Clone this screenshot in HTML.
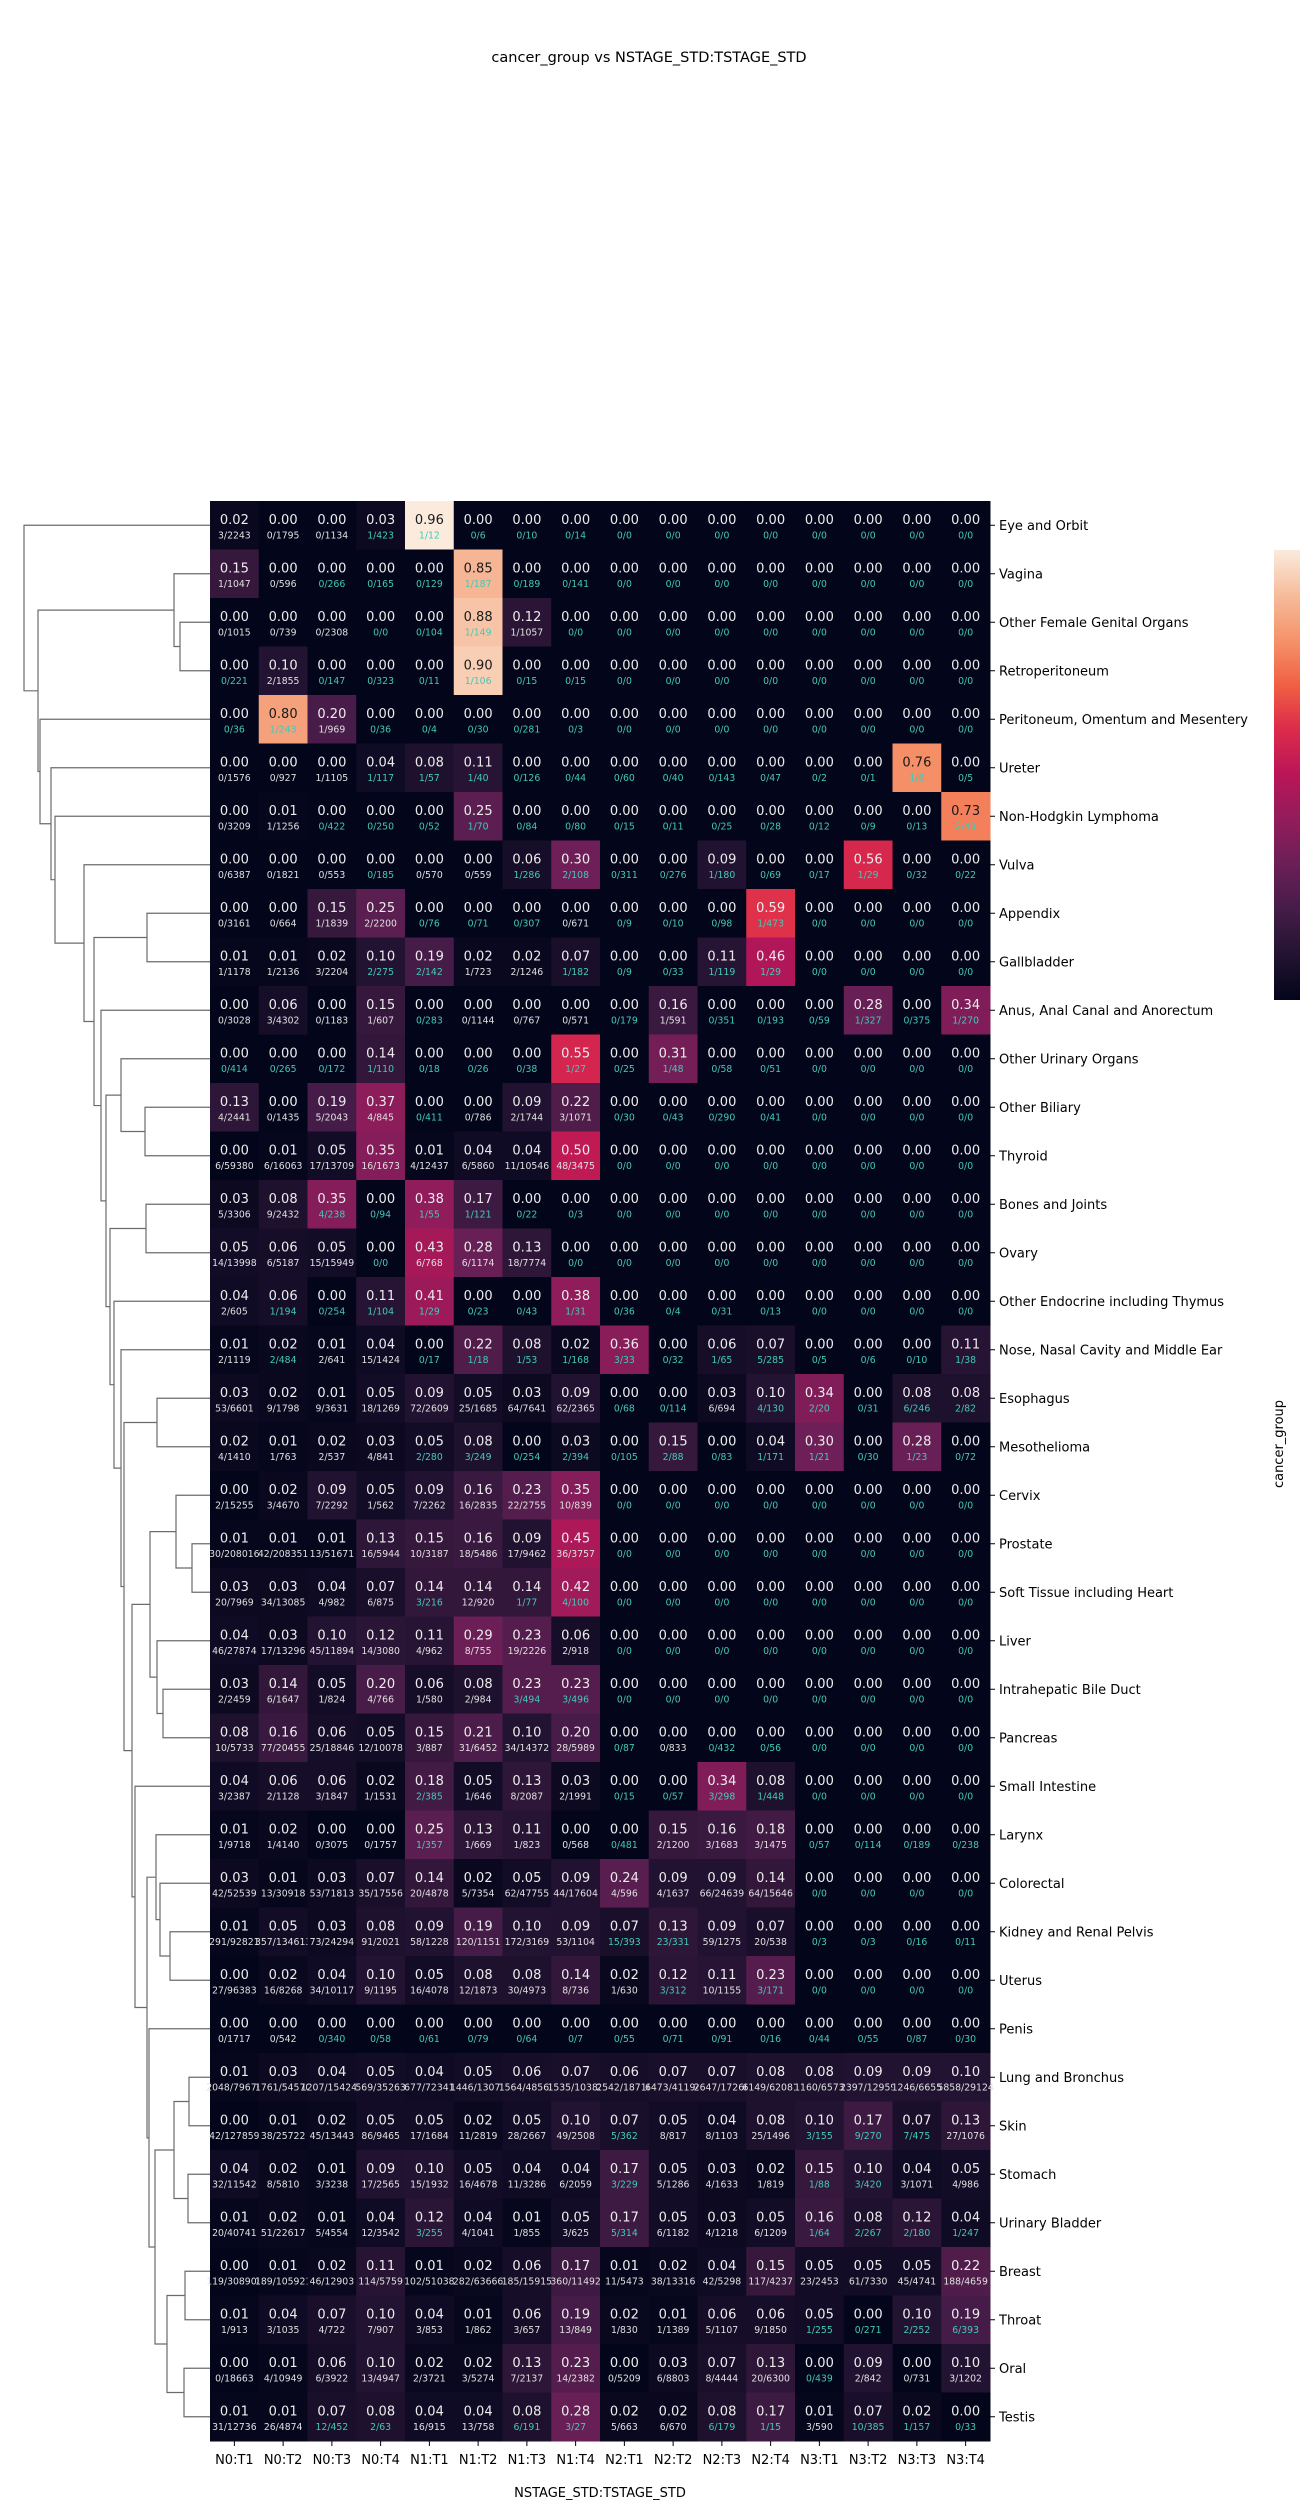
<!DOCTYPE html>
<html><head><meta charset="utf-8"><style>
html,body{margin:0;padding:0;background:#fff;}
svg{display:block;font-family:"DejaVu Sans","Liberation Sans",sans-serif;}
</style></head><body>
<svg id="fig" width="1300" height="2500" viewBox="0 0 1300 2500" xmlns="http://www.w3.org/2000/svg">
<text x="649" y="62" font-size="14.5" text-anchor="middle" fill="#000">cancer_group vs NSTAGE_STD:TSTAGE_STD</text>
<defs><linearGradient id="cbg" x1="0" y1="1" x2="0" y2="0">
<stop offset="0" stop-color="#03051a"/><stop offset="0.1" stop-color="#221331"/><stop offset="0.2" stop-color="#451c47"/><stop offset="0.3" stop-color="#6a1f56"/><stop offset="0.4" stop-color="#921c5b"/><stop offset="0.5" stop-color="#b91657"/><stop offset="0.6" stop-color="#dc2a4b"/><stop offset="0.7" stop-color="#f06043"/><stop offset="0.8" stop-color="#f5936a"/><stop offset="0.9" stop-color="#f6bc9c"/><stop offset="1" stop-color="#faebdd"/>
</linearGradient></defs>
<rect x="1274" y="550" width="26" height="450" fill="url(#cbg)"/>
<g id="dendro"></g>
<g id="cells"></g>
<g id="ylabels"></g>
<g id="xlabels"></g>
<text x="600" y="2497" font-size="13" text-anchor="middle">NSTAGE_STD:TSTAGE_STD</text>
<text x="0" y="0" font-size="13" text-anchor="middle" transform="translate(1283,1444) rotate(-90)">cancer_group</text>
</svg>
<script>
const rows = ["Eye and Orbit","Vagina","Other Female Genital Organs","Retroperitoneum","Peritoneum, Omentum and Mesentery","Ureter","Non-Hodgkin Lymphoma","Vulva","Appendix","Gallbladder","Anus, Anal Canal and Anorectum","Other Urinary Organs","Other Biliary","Thyroid","Bones and Joints","Ovary","Other Endocrine including Thymus","Nose, Nasal Cavity and Middle Ear","Esophagus","Mesothelioma","Cervix","Prostate","Soft Tissue including Heart","Liver","Intrahepatic Bile Duct","Pancreas","Small Intestine","Larynx","Colorectal","Kidney and Renal Pelvis","Uterus","Penis","Lung and Bronchus","Skin","Stomach","Urinary Bladder","Breast","Throat","Oral","Testis"];
const cols = ["N0:T1","N0:T2","N0:T3","N0:T4","N1:T1","N1:T2","N1:T3","N1:T4","N2:T1","N2:T2","N2:T3","N2:T4","N3:T1","N3:T2","N3:T3","N3:T4"];
const rates = [
[.02,0,0,.03,.96,0,0,0,0,0,0,0,0,0,0,0],
[.15,0,0,0,0,.85,0,0,0,0,0,0,0,0,0,0],
[0,0,0,0,0,.88,.12,0,0,0,0,0,0,0,0,0],
[0,.10,0,0,0,.90,0,0,0,0,0,0,0,0,0,0],
[0,.80,.20,0,0,0,0,0,0,0,0,0,0,0,0,0],
[0,0,0,.04,.08,.11,0,0,0,0,0,0,0,0,.76,0],
[0,.01,0,0,0,.25,0,0,0,0,0,0,0,0,0,.73],
[0,0,0,0,0,0,.06,.30,0,0,.09,0,0,.56,0,0],
[0,0,.15,.25,0,0,0,0,0,0,0,.59,0,0,0,0],
[.01,.01,.02,.10,.19,.02,.02,.07,0,0,.11,.46,0,0,0,0],
[0,.06,0,.15,0,0,0,0,0,.16,0,0,0,.28,0,.34],
[0,0,0,.14,0,0,0,.55,0,.31,0,0,0,0,0,0],
[.13,0,.19,.37,0,0,.09,.22,0,0,0,0,0,0,0,0],
[0,.01,.05,.35,.01,.04,.04,.50,0,0,0,0,0,0,0,0],
[.03,.08,.35,0,.38,.17,0,0,0,0,0,0,0,0,0,0],
[.05,.06,.05,0,.43,.28,.13,0,0,0,0,0,0,0,0,0],
[.04,.06,0,.11,.41,0,0,.38,0,0,0,0,0,0,0,0],
[.01,.02,.01,.04,0,.22,.08,.02,.36,0,.06,.07,0,0,0,.11],
[.03,.02,.01,.05,.09,.05,.03,.09,0,0,.03,.10,.34,0,.08,.08],
[.02,.01,.02,.03,.05,.08,0,.03,0,.15,0,.04,.30,0,.28,0],
[0,.02,.09,.05,.09,.16,.23,.35,0,0,0,0,0,0,0,0],
[.01,.01,.01,.13,.15,.16,.09,.45,0,0,0,0,0,0,0,0],
[.03,.03,.04,.07,.14,.14,.14,.42,0,0,0,0,0,0,0,0],
[.04,.03,.10,.12,.11,.29,.23,.06,0,0,0,0,0,0,0,0],
[.03,.14,.05,.20,.06,.08,.23,.23,0,0,0,0,0,0,0,0],
[.08,.16,.06,.05,.15,.21,.10,.20,0,0,0,0,0,0,0,0],
[.04,.06,.06,.02,.18,.05,.13,.03,0,0,.34,.08,0,0,0,0],
[.01,.02,0,0,.25,.13,.11,0,0,.15,.16,.18,0,0,0,0],
[.03,.01,.03,.07,.14,.02,.05,.09,.24,.09,.09,.14,0,0,0,0],
[.01,.05,.03,.08,.09,.19,.10,.09,.07,.13,.09,.07,0,0,0,0],
[0,.02,.04,.10,.05,.08,.08,.14,.02,.12,.11,.23,0,0,0,0],
[0,0,0,0,0,0,0,0,0,0,0,0,0,0,0,0],
[.01,.03,.04,.05,.04,.05,.06,.07,.06,.07,.07,.08,.08,.09,.09,.10],
[0,.01,.02,.05,.05,.02,.05,.10,.07,.05,.04,.08,.10,.17,.07,.13],
[.04,.02,.01,.09,.10,.05,.04,.04,.17,.05,.03,.02,.15,.10,.04,.05],
[.01,.02,.01,.04,.12,.04,.01,.05,.17,.05,.03,.05,.16,.08,.12,.04],
[0,.01,.02,.11,.01,.02,.06,.17,.01,.02,.04,.15,.05,.05,.05,.22],
[.01,.04,.07,.10,.04,.01,.06,.19,.02,.01,.06,.06,.05,0,.10,.19],
[0,.01,.06,.10,.02,.02,.13,.23,0,.03,.07,.13,0,.09,0,.10],
[.01,.01,.07,.08,.04,.04,.08,.28,.02,.02,.08,.17,.01,.07,.02,0]
];
const Z8 = "0/0 0/0 0/0 0/0 0/0 0/0 0/0 0/0";
const Z4 = "0/0 0/0 0/0 0/0";
const fracs = [
"3/2243 0/1795 0/1134 1/423 1/12 0/6 0/10 0/14 "+Z8,
"1/1047 0/596 0/266 0/165 0/129 1/187 0/189 0/141 "+Z8,
"0/1015 0/739 0/2308 0/0 0/104 1/149 1/1057 0/0 "+Z8,
"0/221 2/1855 0/147 0/323 0/11 1/106 0/15 0/15 "+Z8,
"0/36 1/243 1/969 0/36 0/4 0/30 0/281 0/3 "+Z8,
"0/1576 0/927 1/1105 1/117 1/57 1/40 0/126 0/44 0/60 0/40 0/143 0/47 0/2 0/1 1/6 0/5",
"0/3209 1/1256 0/422 0/250 0/52 1/70 0/84 0/80 0/15 0/11 0/25 0/28 0/12 0/9 0/13 2/48",
"0/6387 0/1821 0/553 0/185 0/570 0/559 1/286 2/108 0/311 0/276 1/180 0/69 0/17 1/29 0/32 0/22",
"0/3161 0/664 1/1839 2/2200 0/76 0/71 0/307 0/671 0/9 0/10 0/98 1/473 "+Z4,
"1/1178 1/2136 3/2204 2/275 2/142 1/723 2/1246 1/182 0/9 0/33 1/119 1/29 "+Z4,
"0/3028 3/4302 0/1183 1/607 0/283 0/1144 0/767 0/571 0/179 1/591 0/351 0/193 0/59 1/327 0/375 1/270",
"0/414 0/265 0/172 1/110 0/18 0/26 0/38 1/27 0/25 1/48 0/58 0/51 "+Z4,
"4/2441 0/1435 5/2043 4/845 0/411 0/786 2/1744 3/1071 0/30 0/43 0/290 0/41 "+Z4,
"6/59380 6/16063 17/13709 16/1673 4/12437 6/5860 11/10546 48/3475 "+Z8,
"5/3306 9/2432 4/238 0/94 1/55 1/121 0/22 0/3 "+Z8,
"14/13998 6/5187 15/15949 0/0 6/768 6/1174 18/7774 0/0 "+Z8,
"2/605 1/194 0/254 1/104 1/29 0/23 0/43 1/31 0/36 0/4 0/31 0/13 "+Z4,
"2/1119 2/484 2/641 15/1424 0/17 1/18 1/53 1/168 3/33 0/32 1/65 5/285 0/5 0/6 0/10 1/38",
"53/6601 9/1798 9/3631 18/1269 72/2609 25/1685 64/7641 62/2365 0/68 0/114 6/694 4/130 2/20 0/31 6/246 2/82",
"4/1410 1/763 2/537 4/841 2/280 3/249 0/254 2/394 0/105 2/88 0/83 1/171 1/21 0/30 1/23 0/72",
"2/15255 3/4670 7/2292 1/562 7/2262 16/2835 22/2755 10/839 "+Z8,
"30/208016 42/208351 13/51671 16/5944 10/3187 18/5486 17/9462 36/3757 "+Z8,
"20/7969 34/13085 4/982 6/875 3/216 12/920 1/77 4/100 "+Z8,
"46/27874 17/13296 45/11894 14/3080 4/962 8/755 19/2226 2/918 "+Z8,
"2/2459 6/1647 1/824 4/766 1/580 2/984 3/494 3/496 "+Z8,
"10/5733 77/20455 25/18846 12/10078 3/887 31/6452 34/14372 28/5989 0/87 0/833 0/432 0/56 "+Z4,
"3/2387 2/1128 3/1847 1/1531 2/385 1/646 8/2087 2/1991 0/15 0/57 3/298 1/448 "+Z4,
"1/9718 1/4140 0/3075 0/1757 1/357 1/669 1/823 0/568 0/481 2/1200 3/1683 3/1475 0/57 0/114 0/189 0/238",
"42/52539 13/30918 53/71813 35/17556 20/4878 5/7354 62/47755 44/17604 4/596 4/1637 66/24639 64/15646 "+Z4,
"291/92821 357/134613 73/24294 91/2021 58/1228 120/1151 172/3169 53/1104 15/393 23/331 59/1275 20/538 0/3 0/3 0/16 0/11",
"27/96383 16/8268 34/10117 9/1195 16/4078 12/1873 30/4973 8/736 1/630 3/312 10/1155 3/171 "+Z4,
"0/1717 0/542 0/340 0/58 0/61 0/79 0/64 0/7 0/55 0/71 0/91 0/16 0/44 0/55 0/87 0/30",
"2048/79676 1761/54570 1207/154243 569/35263 677/72341 1446/13071 1564/48561 1535/10382 2542/18716 6473/41194 2647/17266 6149/62081 1160/6573 2397/12959 1246/6655 5858/29124",
"42/127859 38/25722 45/13443 86/9465 17/1684 11/2819 28/2667 49/2508 5/362 8/817 8/1103 25/1496 3/155 9/270 7/475 27/1076",
"32/11542 8/5810 3/3238 17/2565 15/1932 16/4678 11/3286 6/2059 3/229 5/1286 4/1633 1/819 1/88 3/420 3/1071 4/986",
"20/40741 51/22617 5/4554 12/3542 3/255 4/1041 1/855 3/625 5/314 6/1182 4/1218 6/1209 1/64 2/267 2/180 1/247",
"119/308908 189/105921 46/12903 114/5759 102/51038 282/63666 185/15915 360/11492 11/5473 38/13316 42/5298 117/4237 23/2453 61/7330 45/4741 188/4659",
"1/913 3/1035 4/722 7/907 3/853 1/862 3/657 13/849 1/830 1/1389 5/1107 9/1850 1/255 0/271 2/252 6/393",
"0/18663 4/10949 6/3922 13/4947 2/3721 3/5274 7/2137 14/2382 0/5209 6/8803 8/4444 20/6300 0/439 2/842 0/731 3/1202",
"31/12736 26/4874 12/452 2/63 16/915 13/758 6/191 3/27 5/663 6/670 6/179 1/15 3/590 10/385 1/157 0/33"
];
// dendrogram merges: [childA, childB, distance]; nodes numbered from 40
const merges = [
[2,3,30],[1,40,36],[8,9,63],[12,13,65],[11,43,89],[14,15,64],[18,19,53],[21,22,18],[20,47,34],[24,25,47],
[23,49,53],[48,50,60],[29,30,40],[28,52,50],[27,53,54],[32,33,21],[34,35,22],[55,56,36],[36,37,25],[38,39,26],
[58,59,43],[57,60,55],[31,61,61],[54,62,63],[26,63,75],[51,64,78],[46,65,86],[17,66,89],[16,67,96],[45,68,100],
[44,69,104],[10,70,109],[42,71,116],[7,72,126],[6,73,155],[5,74,159],[4,75,170],[41,76,172],[0,77,186]
];

const NS="http://www.w3.org/2000/svg";
const X0=210, X1=990, Y0=501, Y1=2441;
const cw=(X1-X0)/cols.length, rh=(Y1-Y0)/rows.length;
const vmax=0.96;
const xPos=c=>X0+c*cw, yPos=r=>Y0+r*rh;
const stops=[[3,5,26],[34,19,49],[69,28,71],[106,31,86],[146,28,91],[185,22,87],[220,42,75],[240,96,67],[245,147,106],[246,188,156],[250,235,221]];
function cmap(v){let t=Math.max(0,Math.min(1,v/vmax))*10;let i=Math.min(9,Math.floor(t));let f=t-i;const a=stops[i],b=stops[i+1];
return "rgb("+a.map((x,k)=>Math.round(x+(b[k]-x)*f)).join(",")+")";}
function mk(tag,attrs,parent){const e=document.createElementNS(NS,tag);for(const k in attrs)e.setAttribute(k,attrs[k]);parent.appendChild(e);return e;}

const cellsG=document.getElementById('cells');
rates.forEach((row,r)=>{
  const fr=fracs[r].split(' ');
  row.forEach((v,c)=>{
    const x=xPos(c), y=yPos(r);
    const rect=mk('rect',{x:x,y:y,width:cw+0.5,height:rh+0.5,fill:cmap(v)},cellsG);
    
    
    const light=v>0.65;
    const t1=mk('text',{x:x+cw/2,y:y+23,'font-size':13,'text-anchor':'middle',fill:light?'#1a1a1a':'#ececec'},cellsG);
    t1.textContent=v.toFixed(2);
    
    
    const den=parseInt(fr[c].split('/')[1]);
    const t2=mk('text',{x:x+cw/2,y:y+37.5,'font-size':9.3,'text-anchor':'middle',fill:den<500?'#43c9b6':(light?'#1a1a1a':'#e0e0e0')},cellsG);
    t2.textContent=fr[c];
    
    
  });
});
const yl=document.getElementById('ylabels');
rows.forEach((n,r)=>{
  const yc=yPos(r)+rh/2;
  const tk=mk('line',{x1:X1,x2:X1+5,y1:yc,y2:yc,stroke:'#000','stroke-width':1},yl);
  
  
  const t=mk('text',{x:X1+9,y:yc+4.5,'font-size':13},yl);
  t.textContent=n;
  
  
});
const xl=document.getElementById('xlabels');
cols.forEach((n,c)=>{
  const xc=xPos(c)+cw/2;
  const tk=mk('line',{x1:xc,x2:xc,y1:Y1,y2:Y1+5,stroke:'#000','stroke-width':1},xl);
  
  
  const t=mk('text',{x:xc,y:Y1+23,'font-size':13,'text-anchor':'middle'},xl);
  t.textContent=n;
  
  
});
// dendrogram
const dg=document.getElementById('dendro');
const nodeX={}, nodeY={};
rows.forEach((_,r)=>{nodeX[r]=X0;nodeY[r]=yPos(r)+rh/2;});
merges.forEach((m,i)=>{
  const id=rows.length+i;const a=m[0],b=m[1];const x=X0-m[2];
  nodeX[id]=x;nodeY[id]=(nodeY[a]+nodeY[b])/2;
  const p=mk('path',{d:`M${nodeX[a]},${nodeY[a]}H${x}V${nodeY[b]}H${nodeX[b]}`,fill:'none',stroke:'#6b6b6b','stroke-width':1.2},dg);
  
  
});
</script>
</body></html>
